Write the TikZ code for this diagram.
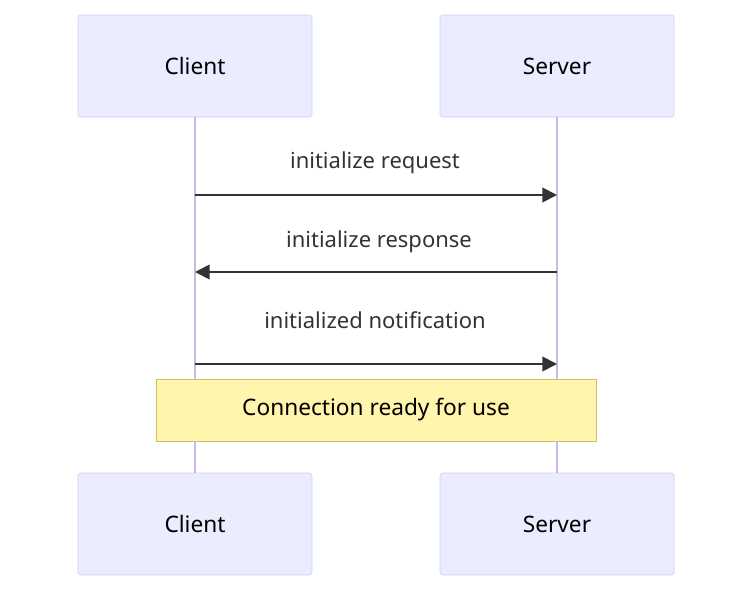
\documentclass[tikz,border=0pt]{standalone}
\usepackage{fontspec}
\setmainfont{Noto Sans}
\usepackage{xcolor}
\definecolor{actorfill}{HTML}{ECECFF}
\definecolor{actorline}{HTML}{CCCCFF}
\definecolor{lifeline}{HTML}{C9B8EC}
\definecolor{notefill}{HTML}{FFF5AD}
\definecolor{noteline}{HTML}{C9C26A}
\definecolor{textgray}{HTML}{333333}
\usetikzlibrary{positioning, calc, arrows.meta}
\tikzstyle{Actor} = [
draw=actorline, fill=actorfill, rounded corners=2pt,
minimum width=175.5pt, minimum height=76.5pt,
font=\fontsize{17}{20}\selectfont, text=black]
\tikzstyle{Arrow} = [
line width=1.4pt, draw=textgray,
-{Triangle[length=11pt,width=11pt]}]
\tikzstyle{Msg} = [font=\fontsize{16.5}{20}\selectfont, text=textgray]

\begin{document}
\begin{tikzpicture}[x=0.75pt, y=-0.75pt]
        \useasboundingbox (0,0) rectangle (752,603);
        \node [Actor] (ct) at (195,66) {Client};
        \node [Actor] (st) at (557,66) {Server};
        \node [Actor] (cb) at (195,524) {Client};
        \node [Actor] (sb) at (557,524) {Server};

        \draw[lifeline, line width=1.5pt] (ct.south)--(cb.north);
        \draw[lifeline, line width=1.5pt] (st.south)--(sb.north);

        \coordinate (c1) at (195,195);
        \coordinate (s1) at (557,195);
        \coordinate (c2) at (195,272);
        \coordinate (s2) at (557,272);
        \coordinate (c3) at (195,364);
        \coordinate (s3) at (557,364);

        \draw[Arrow] (c1)--(s1);
        \draw[Arrow] (s2)--(c2);
        \draw[Arrow] (c3)--(s3);
        \node [Msg] (m1) at (375,163) {initialize request};
        \node [Msg] (m2) at (379,242) {initialize response};
        \node [Msg] (m3) at (375,320) {initialized notification};

        \node [draw=noteline, fill=notefill, minimum width=330pt,
          minimum height=46.5pt, font=\fontsize{17}{20}\selectfont,
          text=black] (note) at (376,410) {Connection ready for use};
    \end{tikzpicture}
\end{document}
